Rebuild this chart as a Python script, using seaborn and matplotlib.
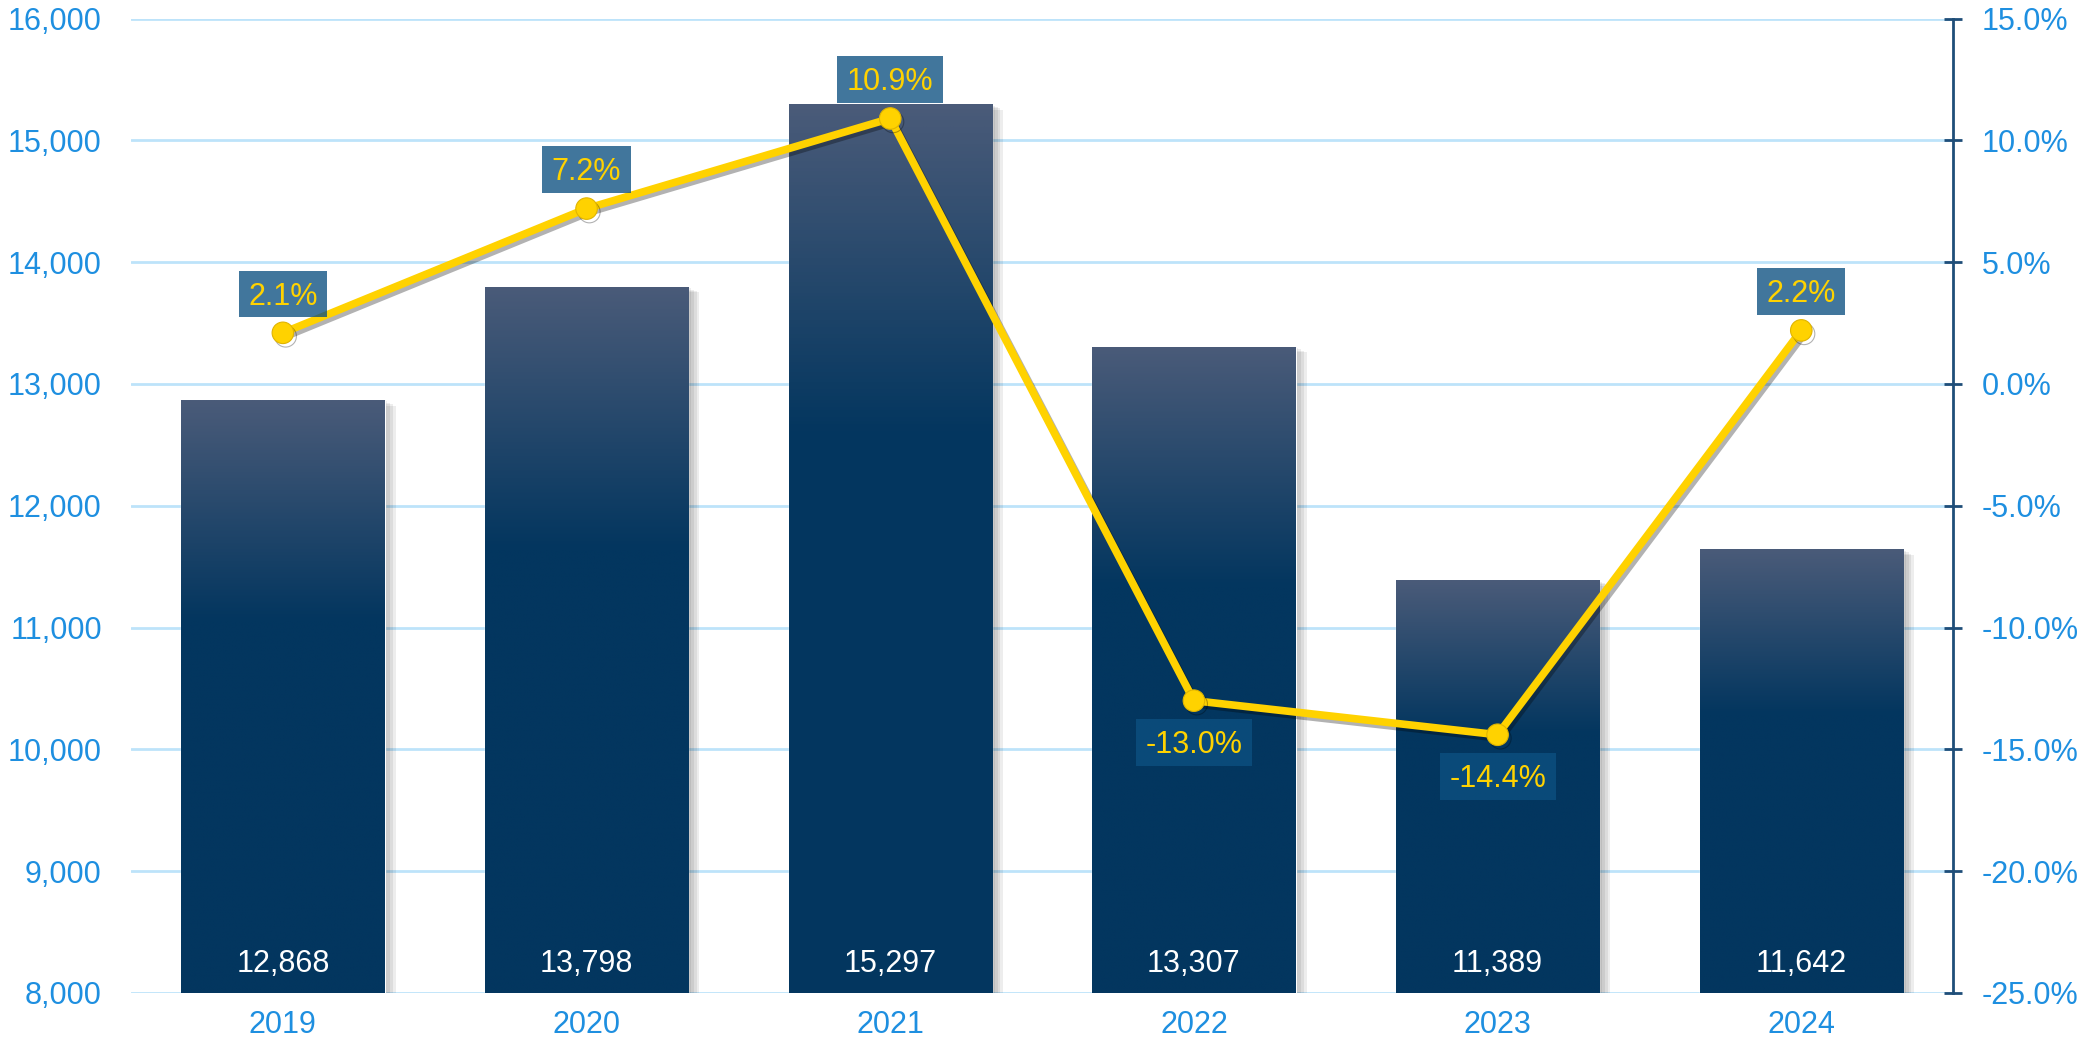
import numpy as np
import pandas as pd
import matplotlib
matplotlib.use("Agg")
import matplotlib.pyplot as plt
import seaborn as sns
from matplotlib import patheffects as pe
from matplotlib.colors import LinearSegmentedColormap
from matplotlib.path import Path
from matplotlib.ticker import FuncFormatter, MultipleLocator

# Annual volume (bars, left axis) and year-on-year growth (line, right axis)
years = ["2019", "2020", "2021", "2022", "2023", "2024"]
volume = [12868, 13798, 15297, 13307, 11389, 11642]
growth = [2.1, 7.2, 10.9, -13.0, -14.4, 2.2]

NAVY = "#03365F"
SLATE = "#4A5B79"
TICK_BLUE = "#1E8FE0"
GRID = "#BDE3FA"
SPINE = "#1F4E79"
YELLOW = "#FFD200"
LABEL_BOX = (12 / 255, 80 / 255, 129 / 255, 0.78)

sns.set_theme(style="white")
plt.rcParams["font.family"] = ["Liberation Sans", "DejaVu Sans"]

fig = plt.figure(figsize=(20.8, 10.45), dpi=100)
ax = fig.add_axes([0.063, 0.0498, 0.876, 0.9324])

df = pd.DataFrame({"year": years, "volume": volume, "growth": growth})
sns.barplot(data=df, x="year", y="volume", color=NAVY, saturation=1,
            width=0.67, ax=ax, zorder=2)

base = 8000
# vertical gradient: slate at the top fading into navy by a third of the way down
grad = LinearSegmentedColormap.from_list(
    "bar_grad", [(0.0, NAVY), (0.63, NAVY), (1.0, SLATE)])
column = np.linspace(0, 1, 256).reshape(-1, 1)
soft_shadow = [pe.SimplePatchShadow(offset=(k, -k / 2), shadow_rgbFace="black",
                                    alpha=0.07) for k in (2, 4, 6, 8)]
for p in ax.patches:
    p.set_path_effects(soft_shadow + [pe.Normal()])
    x0, w, h = p.get_x(), p.get_width(), p.get_height()
    im = ax.imshow(column, cmap=grad, origin="lower", aspect="auto",
                   extent=[x0, x0 + w, base, h], zorder=2.5,
                   interpolation="bilinear")
    im.set_clip_path(p)

ax.set_xlim(-0.5, len(years) - 0.5)
ax.set_ylim(base, 16000)
ax.yaxis.set_major_locator(MultipleLocator(1000))
ax.yaxis.set_major_formatter(FuncFormatter(lambda v, _: f"{v:,.0f}"))
ax.set_axisbelow(True)
ax.grid(axis="y", color=GRID, lw=2)
ax.grid(axis="x", visible=False)
for s in ax.spines.values():
    s.set_visible(False)
ax.tick_params(axis="y", length=0, pad=21, labelsize=22, labelcolor=TICK_BLUE)
ax.tick_params(axis="x", length=0, pad=12, labelsize=22, labelcolor=TICK_BLUE)
ax.set_xlabel("")
ax.set_ylabel("")

for i, v in enumerate(df["volume"]):
    ax.annotate(f"{v:,}", xy=(i, base), xytext=(0, 21),
                textcoords="offset points", ha="center", va="center",
                color="white", fontsize=22, zorder=5)

# growth line on the secondary axis
ax2 = ax.twinx()
pos = np.arange(len(years))
sns.lineplot(x=pos, y=df["growth"], ax=ax2, color=YELLOW, lw=5.5,
             marker="o", markersize=15.5, markeredgecolor="#E0B400",
             markeredgewidth=0.8,
             path_effects=[pe.SimpleLineShadow(offset=(2, -2.5),
                                               shadow_color="black", alpha=0.3),
                           pe.Normal()])
ax2.set_ylim(-25, 15)
ax2.yaxis.set_major_locator(MultipleLocator(5))
ax2.yaxis.set_major_formatter(FuncFormatter(lambda v, _: f"{v:.1f}%"))
ax2.set_ylabel("")
ax2.grid(False)
for name, s in ax2.spines.items():
    s.set_visible(name == "right")
ax2.spines["right"].set_color(SPINE)
ax2.spines["right"].set_linewidth(2)
ax2.tick_params(axis="y", direction="inout", length=13, width=2, color=SPINE,
                pad=14, labelsize=22, labelcolor=TICK_BLUE)


def label_box(x0, y0, width, height, mutation_size):
    """Rectangle with wider side padding and a taller top margin."""
    padx = 0.31 * mutation_size
    top = 0.36 * mutation_size
    bottom = 0.18 * mutation_size
    xa, xb = x0 - padx, x0 + width + padx
    ya, yb = y0 - bottom, y0 + height + top
    return Path([(xa, ya), (xb, ya), (xb, yb), (xa, yb), (xa, ya)],
                closed=True)


for i, g in enumerate(df["growth"]):
    dy = 26 if g >= 0 else -32
    ax2.annotate(f"{g:.1f}%", xy=(i, g), xytext=(0, dy),
                 textcoords="offset points", ha="center", va="center",
                 color=YELLOW, fontsize=22, zorder=6,
                 bbox=dict(boxstyle=label_box, fc=LABEL_BOX, ec="none"))

fig.savefig("out.png", dpi=100, facecolor="white")
